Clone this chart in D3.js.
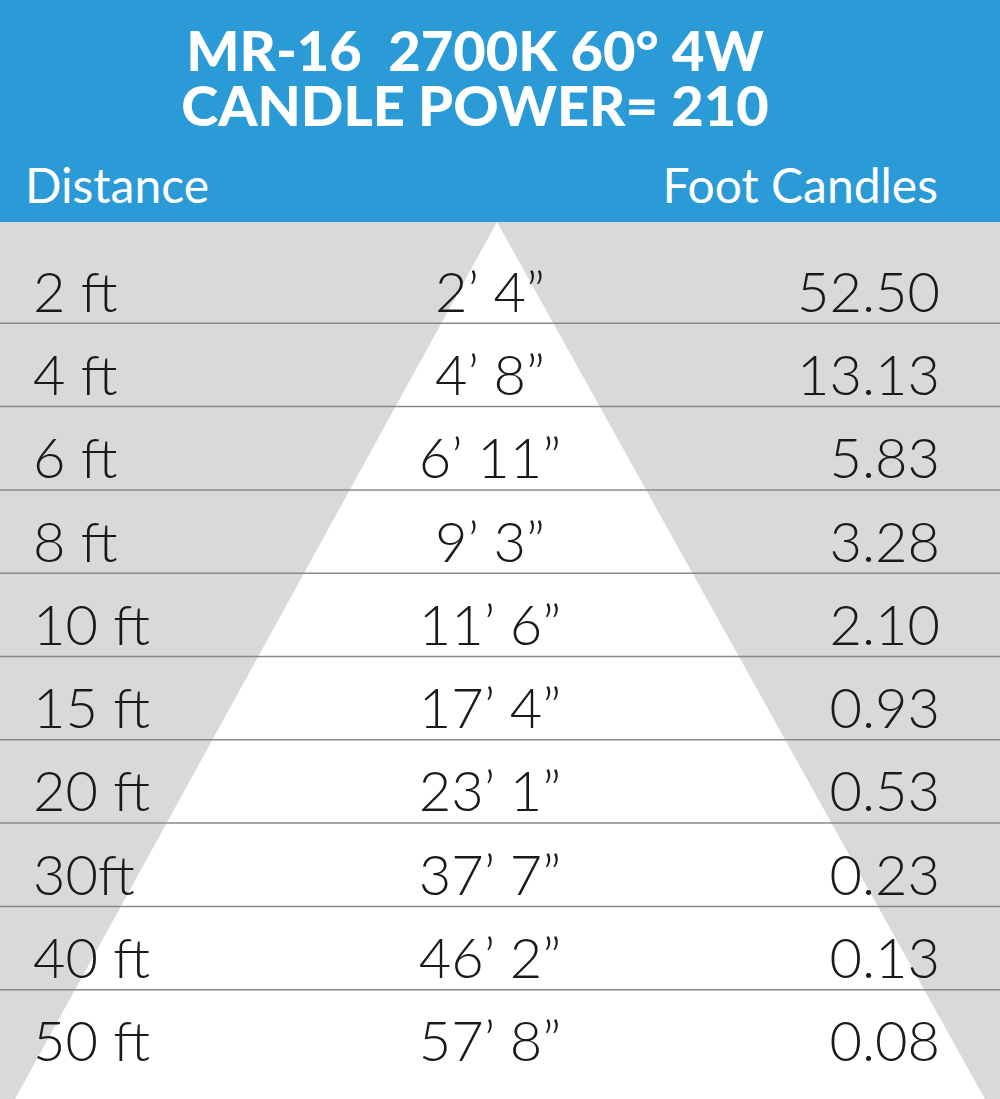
<html>
<head>
<script src="https://d3js.org/d3.v7.min.js"></script>
<style>
  body { margin: 0; background: #fff; }
  text { font-family: Lato, "Open Sans", sans-serif; white-space: pre; }
</style>
</head>
<body>
<svg id="chart" width="1000" height="1099"></svg>
<script>
const titleLines = ["MR-16  2700K 60\u00B0 4W", "CANDLE POWER= 210"];
const headers = ["Distance", "Foot Candles"];
const distances = ["2 ft", "4 ft", "6 ft", "8 ft", "10 ft", "15 ft", "20 ft", "30ft", "40 ft", "50 ft"];
const spreads = ["2\u2019 4\u201D", "4\u2019 8\u201D", "6\u2019 11\u201D", "9\u2019 3\u201D", "11\u2019 6\u201D",
                 "17\u2019 4\u201D", "23\u2019 1\u201D", "37\u2019 7\u201D", "46\u2019 2\u201D", "57\u2019 8\u201D"];
const footCandles = ["52.50", "13.13", "5.83", "3.28", "2.10", "0.93", "0.53", "0.23", "0.13", "0.08"];

const svg = d3.select("#chart");
const width = 1000, height = 1099, headerH = 222;

// background
svg.append("rect").attr("width", width).attr("height", height).attr("fill", "#d9d9da");
svg.append("rect").attr("width", width).attr("height", headerH).attr("fill", "#2b9bd8");

// light cone
const cone = [[497, headerH], [15, height], [985, height]];
svg.append("path").attr("d", d3.line()(cone) + "Z").attr("fill", "#ffffff");

// title
svg.selectAll("text.title").data(titleLines).join("text").attr("class", "title")
  .attr("x", 475).attr("y", (d, i) => 71 + i * 55)
  .attr("text-anchor", "middle").attr("fill", "#fff")
  .attr("font-size", 56).attr("font-weight", 900)
  .text(d => d);

svg.append("text").attr("x", 25).attr("y", 203).attr("fill", "#fff")
  .attr("font-size", 48).text(headers[0]);
svg.append("text").attr("x", 938).attr("y", 203).attr("fill", "#fff")
  .attr("text-anchor", "end").attr("font-size", 48).text(headers[1]);

// rows
const y = d3.scaleBand().domain(distances).range([240, 1073]);

svg.selectAll("line.sep").data(distances.slice(0, -1)).join("line").attr("class", "sep")
  .attr("x1", 0).attr("x2", width)
  .attr("y1", d => y(d) + y.bandwidth()).attr("y2", d => y(d) + y.bandwidth())
  .attr("stroke", "#8a8a8a").attr("stroke-width", 1.5);

const rowText = (cls, vals, x, anchor) =>
  svg.selectAll("text." + cls).data(vals).join("text").attr("class", cls)
    .attr("x", x).attr("y", (d, i) => y(distances[i]) + y.bandwidth() / 2 + 30)
    .attr("text-anchor", anchor).attr("fill", "#1a1a1a")
    .attr("font-size", 56).attr("font-weight", 300).text(d => d);

rowText("dist", distances, 33, "start");
rowText("spread", spreads, 490, "middle");
rowText("fc", footCandles, 940, "end");
</script>
</body>
</html>
